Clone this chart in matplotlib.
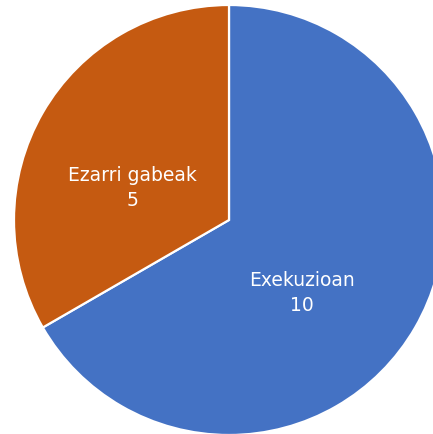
import matplotlib.pyplot as plt

labels = ['Exekuzioan', 'Ezarri gabeak']
values = [10, 5]
colors = ['#4472C4', '#C55A11']

# label positions (x, y) in data units, radius 1
label_pos = [(0.34, -0.335), (-0.45, 0.155)]

fig = plt.figure(figsize=(4.33, 4.35), dpi=100)
r_px = 215
cx, cy = 229, 221
ax = fig.add_axes([(cx - r_px) / 433, 1 - (cy + r_px) / 435, 2 * r_px / 433, 2 * r_px / 435])

wedges, _ = ax.pie(values, colors=colors, startangle=90, counterclock=False,
                   radius=1, wedgeprops=dict(edgecolor='white', linewidth=1.6))
for w in wedges:
    w.set_clip_on(False)

for lab, v, (x, y) in zip(labels, values, label_pos):
    ax.text(x, y, f'{lab}\n{v}', ha='center', va='center', color='white',
            fontsize=13.5, family='DejaVu Sans', linespacing=1.4)

ax.set_xlim(-1, 1)
ax.set_ylim(-1, 1)
ax.set_aspect('equal')
ax.axis('off')

fig.savefig('out.png', dpi=100)
